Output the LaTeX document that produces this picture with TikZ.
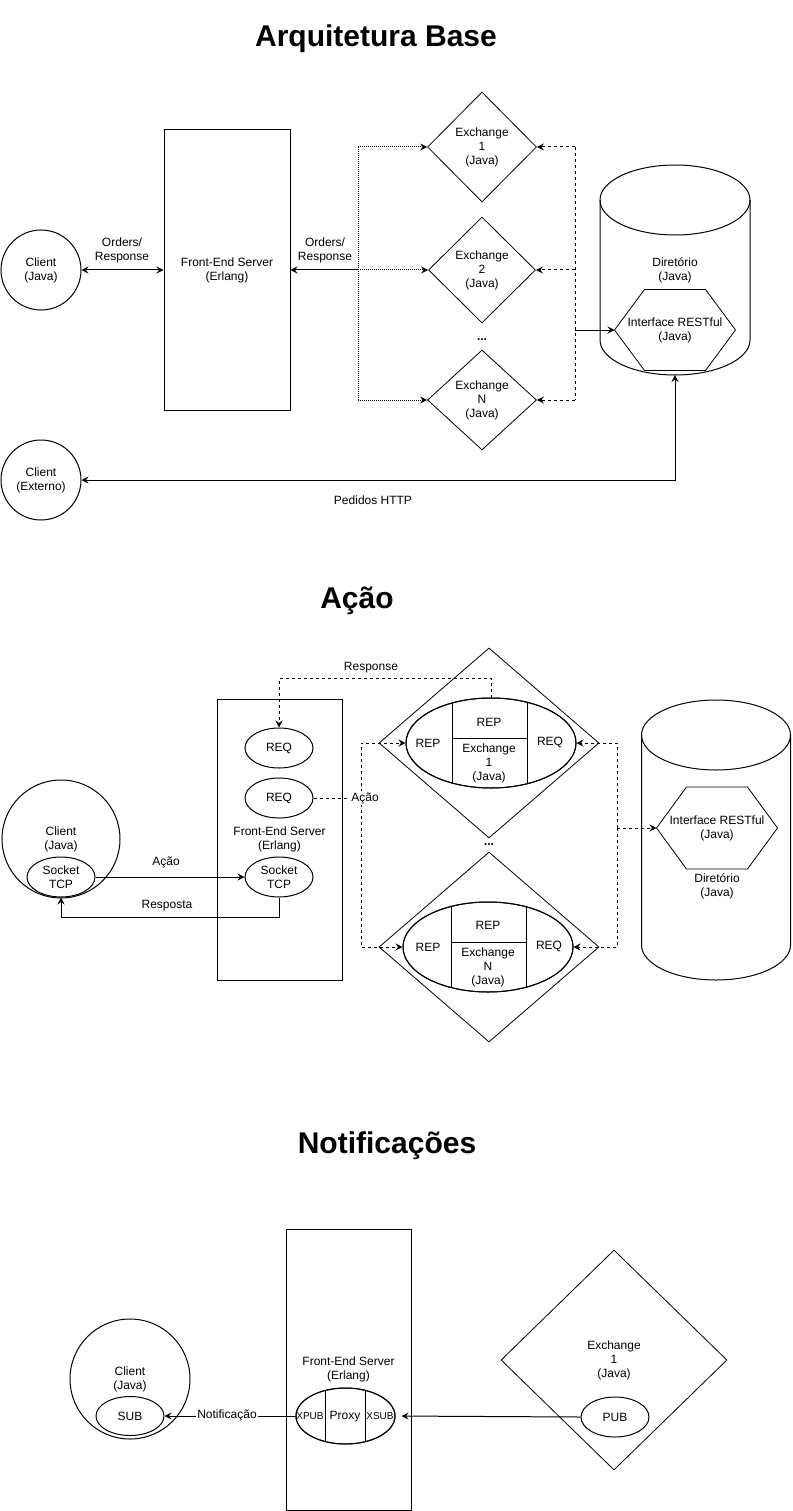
\documentclass[tikz,border=0pt]{standalone}
\usepackage{fontspec}
\setmainfont{Liberation Sans}
\usetikzlibrary{arrows.meta,shapes.geometric,calc}
\begin{document}
\begin{tikzpicture}[x=1pt,y=-1pt,line width=1pt,
  font=\fontsize{12}{14}\selectfont,
  every node/.style={align=center, inner sep=0pt},
  circ/.style={circle, draw, fill=white},
  oval/.style={ellipse, draw, fill=white, minimum width=68pt, minimum height=40pt},
  box/.style={rectangle, draw},
  dia/.style={diamond, draw, aspect=1, line width=0.8pt},
  dotl/.style={dash pattern=on 1pt off 1pt},
  dsh/.style={dash pattern=on 3pt off 3pt},
  arr/.style={-{Stealth[length=7pt,width=7pt,inset=2.5pt]}},
  arrs/.style={{Stealth[length=7pt,width=7pt,inset=2.5pt]}-{Stealth[length=7pt,width=7pt,inset=2.5pt]}},
  title/.style={font=\fontsize{30}{36}\selectfont\bfseries, anchor=base},
  small/.style={font=\fontsize{10}{12}\selectfont},
  lbl/.style={fill=white, inner sep=1pt}
]
\useasboundingbox[fill=white] (0,0) rectangle (792,1511);

% ================= Section 1 =================
\node[title] (t1) at (376,47) {Arquitetura Base};
\node[circ, minimum size=80pt] (c1) at (41,270) {Client\\(Java)};
\node[box, minimum width=126pt, minimum height=280pt] (fe1) at (227,270) {Front-End Server\\(Erlang)};
\node[dia, minimum width=109pt, minimum height=110pt] (e1) at (482,147) {Exchange\\1\\(Java)};
\node[dia, minimum width=107pt, minimum height=106pt] (e2) at (482,270) {Exchange\\2\\(Java)};
\node (dots1) at (482,340) {\textbf{...}};
\node[dia, minimum width=109pt, minimum height=100pt] (en) at (482,400) {Exchange\\N\\(Java)};

% cylinder 1
\draw[fill=white] (600,200) -- (600,340)
  arc[start angle=180,end angle=360,x radius=75pt,y radius=35pt] -- (750,200)
  arc[start angle=0,end angle=180,x radius=75pt,y radius=35pt] -- cycle;
\draw (600,200) arc[start angle=180,end angle=360,x radius=75pt,y radius=35pt];
\node (dir1) at (675,270) {Diret\'orio\\(Java)};
\node[minimum width=120pt, minimum height=80pt] (hx1) at (675,330) {Interface RESTful\\(Java)};
\draw[line width=0.8pt] (hx1.west) -- ($(hx1.north west)+(30,0)$) -- ($(hx1.north east)+(-30,0)$)
  -- (hx1.east) -- ($(hx1.south east)+(-30,0)$) -- ($(hx1.south west)+(30,0)$) -- cycle;
\coordinate (cb1) at (675,375);

\node[circ, minimum size=80pt] (c2) at (41,480) {Client\\(Externo)};

\coordinate (j1) at (358,270);
\coordinate (j2) at (575,330);
\coordinate (h1) at (675,480);

\draw[arrs] (c1) -- (fe1);
\node (o1) at (122,250) {Orders/\\Response};
\draw[arr] (j1) -- (fe1.east);
\node (o2) at (325,250) {Orders/\\Response};
\draw[dotl] (e1.west -| j1) -- (en.west -| j1);
\draw[dotl, arr] (e1.west -| j1) -- (e1.west);
\draw[dotl, arr] (j1) -- (e2.west);
\draw[dotl, arr] (en.west -| j1) -- (en.west);

\draw[dsh] (e1.east -| j2) -- (en.east -| j2);
\draw[dsh, arr] (e1.east -| j2) -- (e1.east);
\draw[dsh, arr] (e2.east -| j2) -- (e2.east);
\draw[dsh, arr] (en.east -| j2) -- (en.east);
\draw[arr] (j2) -- (hx1.west);

\draw[arrs] (c2) -- (h1) -- (cb1);
\node (ph) at (373,500) {Pedidos HTTP};

% ================= Section 2 =================
\node[title] (t2) at (357,608) {A\c{c}\~ao};
\node[circ, minimum size=118pt] (c3) at (61,839) {Client\\(Java)};
\node[oval] (s1) at (61,877) {Socket\\TCP};
\node[box, minimum width=125pt, minimum height=281pt] (fe2) at (279.5,839.5) {Front-End Server\\(Erlang)};
\node[oval] (rq1) at (279,748) {REQ};
\node[oval] (rq2) at (279,798) {REQ};
\node[oval] (s2) at (279,877) {Socket\\TCP};

\node[dia, minimum width=220pt, minimum height=190pt] (d1) at (489,743) {};
\node[dia, minimum width=220pt, minimum height=190pt] (dn) at (489,947) {};
\node (dots2) at (489,845) {\textbf{...}};

\node[oval, minimum width=170pt, minimum height=90pt] (x1) at (491,743) {};
\begin{scope}
  \clip (491,743) ellipse [x radius=85pt, y radius=45pt];
  \draw (452,690) -- (452,800);
  \draw (527,690) -- (527,800);
  \draw (452,738) -- (527,738);
\end{scope}
\draw (491,743) ellipse [x radius=85pt, y radius=45pt];
\node (rp1) at (428,743) {REP};
\node (rq1x) at (550,742) {REQ};
\node (rt1) at (489,722) {REP};
\node (ex1) at (489,763) {Exchange\\1\\(Java)};

\node[oval, minimum width=170pt, minimum height=90pt] (xn) at (488,947) {};
\begin{scope}
  \clip (488,947) ellipse [x radius=85pt, y radius=45pt];
  \draw (451,894) -- (451,1004);
  \draw (526,894) -- (526,1004);
  \draw (451,942) -- (526,942);
\end{scope}
\draw (488,947) ellipse [x radius=85pt, y radius=45pt];
\node (rpn) at (428,947) {REP};
\node (rqnx) at (549,946) {REQ};
\node (rtn) at (488,925) {REP};
\node (exn) at (488,967) {Exchange\\N\\(Java)};

% cylinder 2
\draw[fill=white] (641.5,735) -- (641.5,945)
  arc[start angle=180,end angle=360,x radius=74.5pt,y radius=35pt] -- (790.5,735)
  arc[start angle=0,end angle=180,x radius=74.5pt,y radius=35pt] -- cycle;
\draw (641.5,735) arc[start angle=180,end angle=360,x radius=74.5pt,y radius=35pt];
\node[minimum width=120pt, minimum height=81pt] (hx2) at (717,828) {Interface RESTful\\(Java)};
\draw[line width=0.8pt] (hx2.west) -- ($(hx2.north west)+(30,0)$) -- ($(hx2.north east)+(-30,0)$)
  -- (hx2.east) -- ($(hx2.south east)+(-30,0)$) -- ($(hx2.south west)+(30,0)$) -- cycle;
\node (dir2) at (717,886) {Diret\'orio\\(Java)};

\coordinate (rt) at (279,678);
\coordinate (ja) at (361,798);
\coordinate (jr) at (617,828);

\draw[dsh, arr] (x1.north) |- (rt) -- (rq1.north);
\node (resp) at (371,668) {Response};
\draw[dsh] (rq2.east) -- (ja);
\draw[dsh, arr] (ja) |- (x1.west);
\draw[dsh, arr] (ja) |- (xn.west);
\node[lbl] (acao2) at (365,798) {A\c{c}\~ao};
\draw[dsh, arr] (jr) |- (x1.east);
\draw[dsh, arr] (jr) |- (xn.east);
\draw[dsh, arr] (jr) -- (hx2.west);

\draw[arr] (s1.east) -- (s2.west);
\node (acao1) at (166,862) {A\c{c}\~ao};
\draw[arr] (s2.south) -- ++(0,20) -| (s1.south);
\node (resposta) at (167,906) {Resposta};

% ================= Section 3 =================
\node[title] (t3) at (387,1153) {Notifica\c{c}\~oes};
\node[circ, minimum size=120pt] (c4) at (130,1379) {Client\\(Java)};
\node[oval, minimum height=39pt] (sub) at (130,1416) {SUB};
\node[box, minimum width=125pt, minimum height=281pt] (fe3) at (348.5,1369.5) {Front-End Server\\(Erlang)};
\node[oval, minimum width=99pt, minimum height=56pt] (px) at (345.5,1416) {};
\begin{scope}
  \clip (345.5,1416) ellipse [x radius=49.5pt, y radius=28pt];
  \draw (325,1380) -- (325,1450);
  \draw (365,1380) -- (365,1450);
\end{scope}
\draw (345.5,1416) ellipse [x radius=49.5pt, y radius=28pt];
\node[small] (xpub) at (310,1416) {XPUB};
\node (proxy) at (345,1417) {Proxy};
\node[small] (xsub) at (380,1416) {XSUB};

\node[dia, minimum width=226pt, minimum height=220pt] (d3) at (614,1360) {Exchange\\1\\(Java)};
\node[oval] (pub) at (615,1417) {PUB};

\draw[arr] (px.west) -- (sub.east);
\node[lbl] (notif) at (227,1415) {Notifica\c{c}\~ao};
\draw[arr, shorten >=6pt] (pub.west) -- (px.east);
\end{tikzpicture}
\end{document}
